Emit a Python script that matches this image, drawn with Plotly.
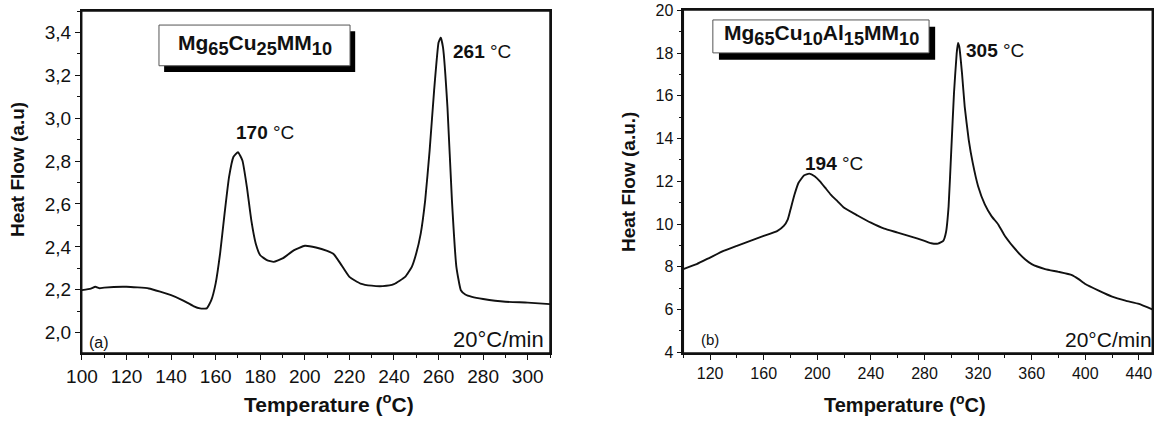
import plotly.graph_objects as go

# ---- data ----
temp_a = [100, 104, 106, 108, 110, 120, 130, 140, 145, 150, 153, 156, 158, 160, 162, 164, 166, 168,
          170, 172, 174, 176, 178, 180, 183, 186, 190, 195, 200, 205, 210, 213, 216, 220, 225,
          230, 235, 240, 245, 248, 250, 252, 254, 256, 258, 260, 261, 262, 264, 266, 268, 270,
          272, 275, 280, 290, 300, 310]
heat_a = [2.198, 2.205, 2.214, 2.207, 2.210, 2.214, 2.206, 2.175, 2.152, 2.124, 2.113, 2.113, 2.150,
          2.230, 2.370, 2.555, 2.725, 2.820, 2.842, 2.803, 2.680, 2.524, 2.415, 2.361, 2.338,
          2.330, 2.346, 2.384, 2.405, 2.397, 2.381, 2.366, 2.322, 2.260, 2.229, 2.219, 2.217,
          2.226, 2.260, 2.307, 2.370, 2.462, 2.617, 2.850, 3.129, 3.353, 3.377, 3.330, 3.050,
          2.617, 2.307, 2.198, 2.178, 2.167, 2.157, 2.144, 2.140, 2.133]

temp_b = [100, 110, 120, 130, 140, 150, 160, 170, 175, 178, 180, 183, 186, 190, 194, 198, 202, 206,
          210, 215, 220, 230, 240, 250, 260, 270, 280, 285, 290, 294, 296, 298, 300, 302, 304,
          305, 306, 308, 310, 313, 316, 320, 325, 330, 335, 340, 350, 355, 360, 370, 380, 390,
          395, 400, 410, 420, 430, 440, 450]
heat_b = [7.89, 8.12, 8.43, 8.74, 8.98, 9.21, 9.44, 9.67, 9.91, 10.22, 10.68, 11.38, 11.93, 12.27,
          12.36, 12.24, 12.00, 11.69, 11.38, 11.07, 10.76, 10.40, 10.06, 9.78, 9.60, 9.41, 9.21,
          9.10, 9.08, 9.21, 9.60, 10.84, 13.48, 16.12, 17.98, 18.48, 18.29, 17.05, 15.50, 13.94,
          12.86, 11.77, 10.92, 10.37, 9.98, 9.44, 8.66, 8.35, 8.12, 7.89, 7.76, 7.61,
          7.42, 7.19, 6.88, 6.60, 6.41, 6.26, 6.00]

peaks_a = [170, 261]
peaks_b = [194, 305]
label_a = ["Mg", "65", "Cu", "25", "MM", "10"]
label_b = ["Mg", "65", "Cu", "10", "Al", "15", "MM", "10"]

OFF = 0
W, H = 1164, 422
FONT = "Liberation Sans, Arial, sans-serif"


def px(X):
    return (X - OFF) / W


def py(Y):
    return (353 - Y) / 343


def formula(parts):
    s = ""
    for i, p in enumerate(parts):
        if i % 2 == 0:
            s += "<span style='font-size:21px'>%s</span>" % p
        else:
            s += "<sub>%s</sub>" % p
    return "<b>" + s + "</b>"


fig = go.Figure()
fig.add_trace(go.Scatter(x=temp_a, y=heat_a, mode="lines", xaxis="x", yaxis="y",
                         line=dict(color="#111111", width=1.9, shape="spline", smoothing=0.4),
                         showlegend=False, hoverinfo="skip"))
fig.add_trace(go.Scatter(x=temp_b, y=heat_b, mode="lines", xaxis="x2", yaxis="y2",
                         line=dict(color="#111111", width=1.9, shape="spline", smoothing=0.4),
                         showlegend=False, hoverinfo="skip"))

axis_common = dict(showline=True, linecolor="#111111", linewidth=1.5, mirror=True,
                   ticks="outside", ticklen=5, tickwidth=1.3, tickcolor="#111111",
                   showgrid=False, zeroline=False, automargin=False,
                   ticklabeloverflow="allow")

fig.update_layout(
    template="none",
    width=W, height=H,
    margin=dict(l=0, r=0, t=10 - OFF, b=H - (353 - OFF), pad=0),
    paper_bgcolor="white", plot_bgcolor="white",
    separators=",.",
    font=dict(family=FONT, color="#111111", size=16),
    xaxis=dict(domain=[px(81.7), px(550)], range=[99.9, 310], dtick=20, tick0=100,
               minor=dict(dtick=10, ticks="outside", ticklen=3, tickcolor="#111111"),
               tickfont=dict(size=19), anchor="y", **axis_common),
    yaxis=dict(domain=[0, 0.997], range=[1.905, 3.5], dtick=0.2, tick0=2.0, tickformat=".1f",
               minor=dict(dtick=0.1, ticks="outside", ticklen=3, tickcolor="#111111"),
               tickfont=dict(size=19), anchor="x", **axis_common),
    xaxis2=dict(domain=[px(683.3), px(1152.3)], range=[100, 450], dtick=40, tick0=120,
                minor=dict(dtick=20, ticks="outside", ticklen=3, tickcolor="#111111"),
                tickfont=dict(size=16), anchor="y2", **axis_common),
    yaxis2=dict(domain=[0, 1], range=[3.96, 20.02], dtick=2, tick0=4,
                minor=dict(dtick=1, ticks="outside", ticklen=3, tickcolor="#111111"),
                tickfont=dict(size=16), anchor="x2", **axis_common),
)

# explicit frames around both plot areas
for xr, yr in (("x domain", "y domain"), ("x2 domain", "y2 domain")):
    fig.add_shape(type="rect", xref=xr, yref=yr, x0=0, x1=1, y0=0, y1=1,
                  line=dict(color="#111111", width=1.5), fillcolor="rgba(0,0,0,0)", layer="above")


def box(xr, yr, x0, x1, y0, y1, dx, dy):
    fig.add_shape(type="rect", xref=xr, yref=yr, x0=x0 + dx, x1=x1 + dx, y0=y0 - dy, y1=y1 - dy,
                  fillcolor="black", line=dict(width=0), layer="above")
    fig.add_shape(type="rect", xref=xr, yref=yr, x0=x0, x1=x1, y0=y0, y1=y1,
                  fillcolor="white", line=dict(color="#555555", width=1), layer="above")


box("x domain", "y domain", 0.165, 0.573, 0.840, 0.959, 0.011, 0.018)
box("x2 domain", "y2 domain", 0.063, 0.524, 0.875, 0.971, 0.013, 0.020)

ann = []
ann.append(dict(xref="x domain", yref="y domain", x=0.369, y=0.902, text=formula(label_a),
                showarrow=False, font=dict(size=26), xanchor="center", yanchor="middle"))
ann.append(dict(xref="x2 domain", yref="y2 domain", x=0.294, y=0.926, text=formula(label_b),
                showarrow=False, font=dict(size=26), xanchor="center", yanchor="middle"))

# peak labels
ann.append(dict(xref="x", yref="y", x=168.3, y=2.935, text="<b>%d</b> °C" % peaks_a[0],
                showarrow=False, font=dict(size=19), xanchor="left", yanchor="middle"))
ann.append(dict(xref="x", yref="y", x=265.8, y=3.313, text="<b>%d</b> °C" % peaks_a[1],
                showarrow=False, font=dict(size=19), xanchor="left", yanchor="middle"))
ann.append(dict(xref="x2", yref="y2", x=189.5, y=12.82, text="<b>%d</b> °C" % peaks_b[0],
                showarrow=False, font=dict(size=19), xanchor="left", yanchor="middle"))
ann.append(dict(xref="x2", yref="y2", x=309.5, y=18.11, text="<b>%d</b> °C" % peaks_b[1],
                showarrow=False, font=dict(size=19), xanchor="left", yanchor="middle"))

# panel tags and rate
ann.append(dict(xref="x domain", yref="y domain", x=0.012, y=0.030, text="(a)",
                showarrow=False, font=dict(size=16), xanchor="left", yanchor="middle"))
ann.append(dict(xref="x domain", yref="y domain", x=0.991, y=0.040, text="20°C/min",
                showarrow=False, font=dict(size=22), xanchor="right", yanchor="middle"))
ann.append(dict(xref="x2 domain", yref="y2 domain", x=0.034, y=0.040, text="(b)",
                showarrow=False, font=dict(size=15), xanchor="left", yanchor="middle"))
ann.append(dict(xref="x2 domain", yref="y2 domain", x=1.003, y=0.040, text="20°C/min",
                showarrow=False, font=dict(size=21), xanchor="right", yanchor="middle"))

# axis titles
ann.append(dict(xref="paper", yref="paper", x=px(329), y=py(403),
                text="<b>Temperature (<sup>o</sup>C)</b>", showarrow=False, font=dict(size=21),
                xanchor="center", yanchor="middle"))
ann.append(dict(xref="paper", yref="paper", x=px(905), y=py(403),
                text="<b>Temperature (<sup>o</sup>C)</b>", showarrow=False, font=dict(size=20),
                xanchor="center", yanchor="middle"))
ann.append(dict(xref="paper", yref="paper", x=px(17), y=py(170),
                text="<b>Heat Flow (a.u)</b>", showarrow=False, font=dict(size=19), textangle=-90,
                xanchor="center", yanchor="middle"))
ann.append(dict(xref="paper", yref="paper", x=px(628), y=py(182),
                text="<b>Heat Flow (a.u.)</b>", showarrow=False, font=dict(size=19), textangle=-90,
                xanchor="center", yanchor="middle"))

fig.update_layout(annotations=ann)
fig.write_html("out.html", config={"displayModeBar": False},
               post_script="document.body.style.margin='0';document.body.style.overflow='hidden';")
